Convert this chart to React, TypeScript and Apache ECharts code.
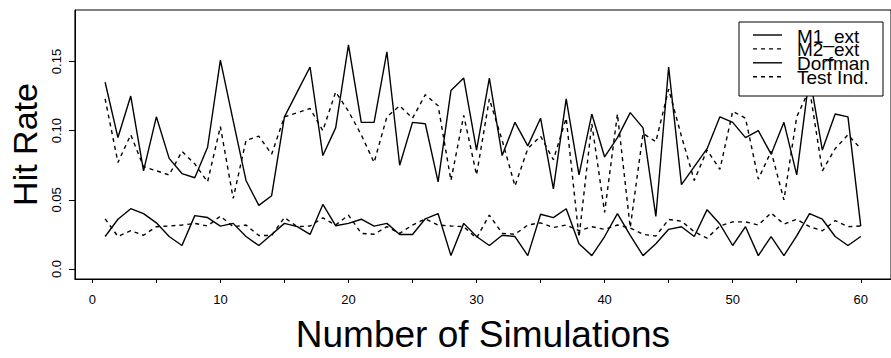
import React, { useEffect, useRef } from "react";
import * as echarts from "echarts";

const simulations = [
  1, 2, 3, 4, 5, 6, 7, 8, 9, 10, 11, 12, 13, 14, 15, 16, 17, 18, 19, 20,
  21, 22, 23, 24, 25, 26, 27, 28, 29, 30, 31, 32, 33, 34, 35, 36, 37, 38, 39, 40,
  41, 42, 43, 44, 45, 46, 47, 48, 49, 50, 51, 52, 53, 54, 55, 56, 57, 58, 59, 60,
];

const m1Ext = [
  0.135, 0.095, 0.125, 0.071, 0.11, 0.08, 0.069, 0.066, 0.088, 0.151,
  0.107, 0.064, 0.046, 0.053, 0.11, 0.128, 0.146, 0.082, 0.102, 0.162,
  0.106, 0.106, 0.157, 0.075, 0.106, 0.105, 0.063, 0.129, 0.138, 0.086,
  0.138, 0.082, 0.106, 0.089, 0.109, 0.058, 0.123, 0.068, 0.112, 0.081,
  0.095, 0.113, 0.102, 0.038, 0.146, 0.061, 0.074, 0.087, 0.11, 0.106,
  0.095, 0.1, 0.083, 0.106, 0.068, 0.14, 0.086, 0.112, 0.11, 0.031,
];

const m2Ext = [
  0.123, 0.077, 0.097, 0.074, 0.071, 0.068, 0.085, 0.076, 0.063, 0.103,
  0.051, 0.093, 0.096, 0.083, 0.11, 0.113, 0.116, 0.1, 0.128, 0.114,
  0.097, 0.077, 0.11, 0.118, 0.109, 0.126, 0.118, 0.064, 0.111, 0.068,
  0.123, 0.093, 0.06, 0.087, 0.096, 0.079, 0.109, 0.023, 0.105, 0.041,
  0.112, 0.03, 0.098, 0.092, 0.13, 0.096, 0.064, 0.086, 0.072, 0.114,
  0.109, 0.065, 0.085, 0.05, 0.11, 0.13, 0.071, 0.087, 0.097, 0.087,
];

const dorfman = [
  0.0235, 0.036, 0.0436, 0.04, 0.0334, 0.0235, 0.017, 0.0386, 0.0372, 0.031,
  0.033, 0.0235, 0.017, 0.025, 0.033, 0.0306, 0.025, 0.0467, 0.0313, 0.033,
  0.036, 0.031, 0.033, 0.025, 0.025, 0.0363, 0.04, 0.0097, 0.033, 0.0235,
  0.017, 0.0244, 0.0235, 0.0097, 0.0396, 0.0372, 0.0436, 0.0183, 0.0097, 0.0235,
  0.04, 0.0244, 0.0097, 0.0183, 0.0287, 0.0306, 0.0235, 0.0429, 0.0325, 0.017,
  0.0306, 0.0097, 0.0235, 0.0097, 0.0239, 0.04, 0.036, 0.0235, 0.017, 0.0235,
];

const testInd = [
  0.0363, 0.0235, 0.0277, 0.0244, 0.0306, 0.0311, 0.0318, 0.033, 0.0311, 0.0382,
  0.0306, 0.0318, 0.0242, 0.0242, 0.0372, 0.0306, 0.0311, 0.037, 0.0318, 0.039,
  0.0258, 0.0251, 0.0306, 0.0258, 0.0318, 0.0363, 0.0318, 0.0311, 0.0306, 0.0223,
  0.039, 0.0258, 0.0251, 0.0318, 0.0334, 0.03, 0.0318, 0.0277, 0.0306, 0.0287,
  0.0318, 0.0296, 0.0251, 0.0239, 0.0358, 0.0346, 0.027, 0.0223, 0.0311, 0.0341,
  0.0341, 0.0318, 0.0405, 0.0325, 0.036, 0.0306, 0.0277, 0.035, 0.0306, 0.0311,
];

const seriesNames = ["M1_ext", "M2_ext", "Dorfman", "Test Ind."];
const seriesDashed = [false, true, false, true];
const xTickValues = [0, 5, 10, 15, 20, 25, 30, 35, 40, 45, 50, 55, 60];
const xLabelValues = [0, 10, 20, 30, 40, 50, 60];
const yTickValues = [0, 0.05, 0.1, 0.15];
const yTickLabels = ["0.0", "0.05", "0.10", "0.15"];

const FONT = "'Liberation Sans', Arial, Helvetica, sans-serif";
const DASH = [4, 4];

export default function App() {
  const ref = useRef<HTMLDivElement>(null);

  useEffect(() => {
    if (!ref.current) return;
    const chart = echarts.init(ref.current, undefined, { renderer: "svg" });
    const allValues = [m1Ext, m2Ext, dorfman, testInd];

    const series = allValues.map((vals, s) => ({
      name: seriesNames[s],
      type: "line",
      data: simulations.map((x, i) => [x, vals[i]]),
      symbol: "none",
      color: "#000",
      lineStyle: {
        color: "#000",
        width: 1.4,
        type: seriesDashed[s] ? DASH : "solid",
      },
      z: 2,
    }));

    // Legend box (drawn with graphic elements, on top of the lines)
    const boxX = 739;
    const boxY = 22;
    const rowY0 = 35;
    const rowStep = 13.9;
    const legendGraphics: any[] = [
      {
        type: "rect",
        shape: { x: boxX, y: boxY, width: 144, height: 74 },
        style: { fill: "#fff", stroke: "#000", lineWidth: 1 },
        z: 100,
      },
    ];
    seriesNames.forEach((name, k) => {
      const y = rowY0 + rowStep * k;
      legendGraphics.push({
        type: "line",
        shape: { x1: 753, y1: y, x2: 782, y2: y },
        style: {
          stroke: "#000",
          lineWidth: 1.4,
          lineDash: seriesDashed[k] ? DASH : null,
        },
        z: 101,
      });
      legendGraphics.push({
        type: "text",
        x: 797,
        y: y + 1,
        style: {
          text: name,
          fill: "#000",
          font: `19px ${FONT}`,
          textAlign: "left",
          textVerticalAlign: "middle",
        },
        z: 101,
      });
    });

    chart.setOption({
      animation: false,
      backgroundColor: "#fff",
      textStyle: { fontFamily: FONT },
      grid: {
        left: 69,
        top: 10,
        width: 830,
        height: 273,
        show: true,
        borderColor: "#000",
        borderWidth: 1,
        backgroundColor: "transparent",
      },
      xAxis: {
        type: "value",
        min: -1.36,
        max: 62.36,
        splitLine: { show: false },
        axisLine: { show: true, onZero: false, lineStyle: { color: "#000", width: 1 } },
        axisTick: {
          show: true,
          customValues: xTickValues,
          length: 4,
          lineStyle: { color: "#000", width: 1 },
        },
        axisLabel: {
          customValues: xLabelValues,
          margin: 14,
          fontSize: 13,
          color: "#000",
          fontFamily: FONT,
        },
        name: "Number of Simulations",
        nameLocation: "middle",
        nameGap: 37,
        nameTextStyle: { fontSize: 37, color: "#000", fontFamily: FONT },
      },
      yAxis: {
        type: "value",
        min: -0.0072,
        max: 0.1872,
        splitLine: { show: false },
        axisLine: { show: true, onZero: false, lineStyle: { color: "#000", width: 1 } },
        axisTick: {
          show: true,
          customValues: yTickValues,
          length: 6,
          lineStyle: { color: "#000", width: 1 },
        },
        axisLabel: {
          customValues: yTickValues,
          rotate: 90,
          margin: 12,
          fontSize: 13,
          color: "#000",
          fontFamily: FONT,
          formatter: (v: number) => {
            const idx = yTickValues.findIndex((t) => Math.abs(t - v) < 1e-9);
            return idx >= 0 ? yTickLabels[idx] : "";
          },
        },
        name: "Hit Rate",
        nameLocation: "middle",
        nameGap: 27,
        nameTextStyle: { fontSize: 34, color: "#000", fontFamily: FONT },
      },
      graphic: legendGraphics,
      series,
    });

    return () => {
      chart.dispose();
    };
  }, []);

  return (
    <div
      ref={ref}
      style={{ position: "fixed", left: 0, top: 0, width: 891, height: 358, background: "#fff" }}
    />
  );
}
